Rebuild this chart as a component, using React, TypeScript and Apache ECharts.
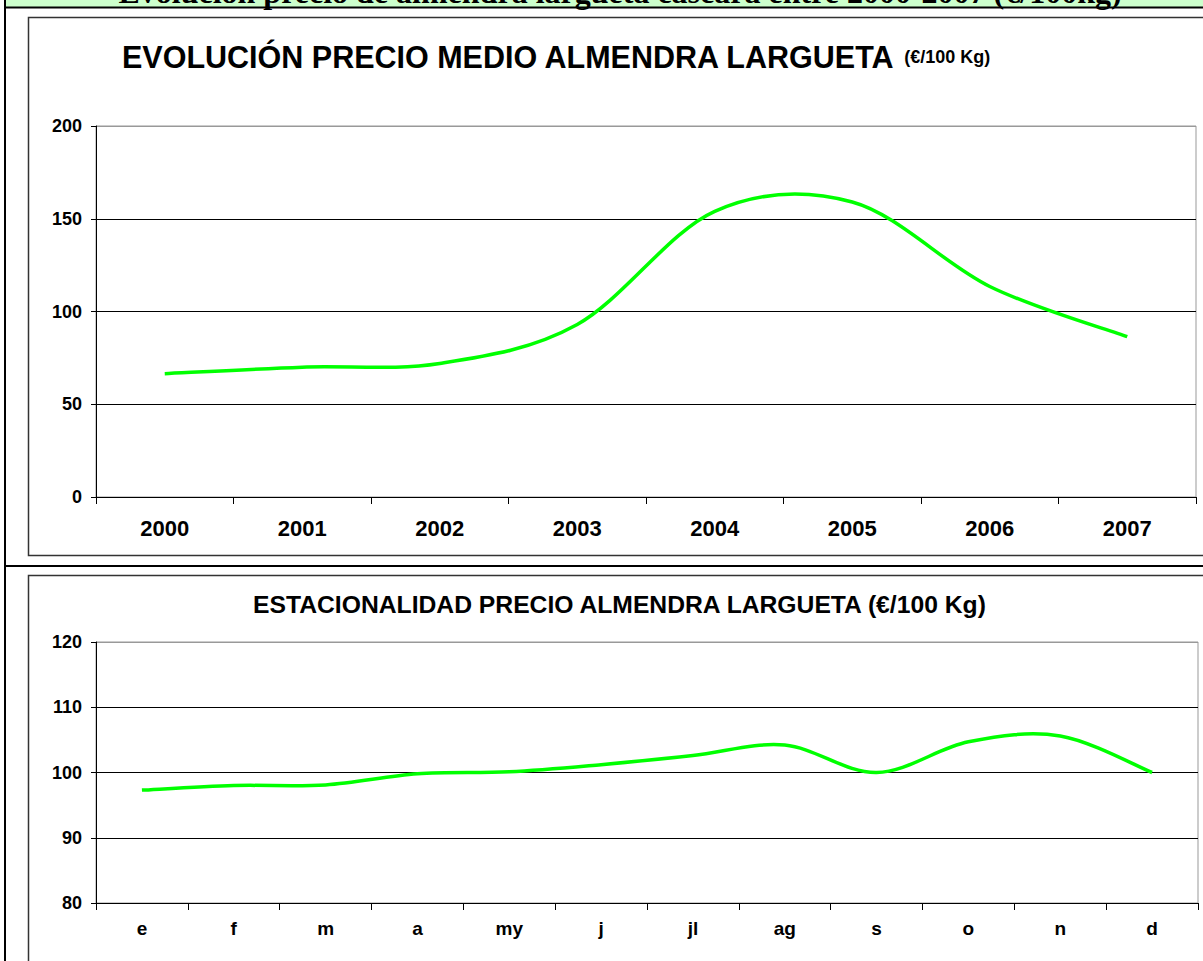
import React, { useEffect, useRef } from 'react';
import * as echarts from 'echarts';

const bannerTitle = 'Evolución precio de almendra largueta cáscara entre 2000-2007 (€/100kg)';
const chart1Title = 'EVOLUCIÓN PRECIO MEDIO ALMENDRA LARGUETA ';
const chart1Unit = '(€/100 Kg)';
const chart2Title = 'ESTACIONALIDAD PRECIO ALMENDRA LARGUETA (€/100 Kg)';

const years = ['2000', '2001', '2002', '2003', '2004', '2005', '2006', '2007'];
const priceValues = [66.5, 70, 72, 93, 154, 159, 113.5, 86.4];
const priceMin = 0;
const priceMax = 200;
const priceStep = 50;

const months = ['e', 'f', 'm', 'a', 'my', 'j', 'jl', 'ag', 's', 'o', 'n', 'd'];
const seasonValues = [97.3, 98.0, 98.1, 99.8, 100.1, 101.2, 102.6, 104.2, 100.0, 104.7, 105.6, 100.0];
const seasonMin = 80;
const seasonMax = 120;
const seasonStep = 10;

const FONT = 'Arial, "Liberation Sans", Helvetica, sans-serif';
const SERIF = '"Times New Roman", "Liberation Serif", serif';
const GRID_COLORS = ['#000', '#000', '#000', '#000', '#999'];

function xAxis(gridIndex: number, data: string[], fontSize: number, margin: number) {
  return {
    type: 'category',
    gridIndex,
    data,
    boundaryGap: true,
    axisLine: { show: true, lineStyle: { color: '#000', width: 1 } },
    axisTick: { show: true, length: 7, lineStyle: { color: '#000' } },
    axisLabel: { color: '#000', fontWeight: 'bold', fontSize, fontFamily: FONT, margin, interval: 0 },
    splitLine: { show: false },
  };
}

function yAxis(gridIndex: number, min: number, max: number, interval: number) {
  return {
    type: 'value',
    gridIndex,
    min,
    max,
    interval,
    axisLine: { show: true, lineStyle: { color: '#000' } },
    axisTick: { show: true, length: 5, lineStyle: { color: '#000' } },
    axisLabel: { color: '#000', fontWeight: 'bold', fontSize: 18, fontFamily: FONT, margin: 14 },
    splitLine: { show: true, lineStyle: { color: GRID_COLORS, width: 1 } },
  };
}

// Excel-like smoothed line (Catmull-Rom through the data points)
function smoothPath(pts: number[][]) {
  let d = `M${pts[0][0]},${pts[0][1]}`;
  for (let i = 0; i < pts.length - 1; i++) {
    const p0 = pts[i - 1] || pts[i];
    const p1 = pts[i];
    const p2 = pts[i + 1];
    const p3 = pts[i + 2] || p2;
    const c1x = p1[0] + (p2[0] - p0[0]) / 6;
    const c1y = p1[1] + (p2[1] - p0[1]) / 6;
    const c2x = p2[0] - (p3[0] - p1[0]) / 6;
    const c2y = p2[1] - (p3[1] - p1[1]) / 6;
    d += ` C${c1x},${c1y} ${c2x},${c2y} ${p2[0]},${p2[1]}`;
  }
  return d;
}

function smoothSeries(axisIndex: number, values: number[]) {
  return {
    type: 'custom',
    xAxisIndex: axisIndex,
    yAxisIndex: axisIndex,
    data: values.map((v, i) => [i, v]),
    z: 3,
    renderItem: (params: any, api: any) => {
      if (params.dataIndex !== 0) return { type: 'group', children: [] };
      const pts = values.map((v, i) => api.coord([i, v]));
      return {
        type: 'path',
        shape: { pathData: smoothPath(pts) },
        style: { fill: 'none', stroke: '#00ff00', lineWidth: 3.5, lineJoin: 'round', lineCap: 'butt' },
      };
    },
  };
}

export default function App() {
  const ref = useRef<HTMLDivElement>(null);

  useEffect(() => {
    if (!ref.current) return;
    const chart = echarts.init(ref.current, undefined, { renderer: 'svg' });
    chart.setOption({
      animation: false,
      backgroundColor: '#fff',
      title: [
        {
          text: `{a|${chart1Title}}{b|${chart1Unit}}`,
          left: 122,
          top: 41,
          padding: 0,
          textStyle: {
            rich: {
              a: { fontFamily: FONT, fontWeight: 'bold', fontSize: 30.5, color: '#000' },
              b: { fontFamily: FONT, fontWeight: 'bold', fontSize: 18, color: '#000' },
            },
          },
        },
        {
          text: chart2Title,
          left: 253,
          top: 592,
          padding: 0,
          textStyle: { fontFamily: FONT, fontWeight: 'bold', fontSize: 24.7, color: '#000' },
        },
      ],
      grid: [
        { left: 96, top: 126, width: 1100, height: 371, show: true, borderColor: '#999', borderWidth: 1 },
        { left: 96, top: 642, width: 1102, height: 261, show: true, borderColor: '#999', borderWidth: 1 },
      ],
      xAxis: [xAxis(0, years, 22, 20), xAxis(1, months, 19, 16)],
      yAxis: [yAxis(0, priceMin, priceMax, priceStep), yAxis(1, seasonMin, seasonMax, seasonStep)],
      series: [smoothSeries(0, priceValues), smoothSeries(1, seasonValues)],
      graphic: [
        { type: 'rect', shape: { x: 6, y: -30, width: 1200, height: 37 }, style: { fill: '#ccffcc' }, z: 0 },
        {
          type: 'text',
          x: 620,
          y: -8.5,
          style: { text: bannerTitle, font: `bold 32px ${SERIF}`, fill: '#000', align: 'center', verticalAlign: 'middle' },
          z: 1,
        },
        { type: 'line', shape: { x1: 4, y1: 7.5, x2: 1210, y2: 7.5 }, style: { stroke: '#000', lineWidth: 2 }, z: 2 },
        { type: 'line', shape: { x1: 4, y1: 566, x2: 1210, y2: 566 }, style: { stroke: '#000', lineWidth: 2 }, z: 2 },
        { type: 'line', shape: { x1: 5, y1: 0, x2: 5, y2: 970 }, style: { stroke: '#000', lineWidth: 2 }, z: 2 },
        { type: 'rect', shape: { x: 28.5, y: 17.5, width: 1200, height: 538 }, style: { fill: 'none', stroke: '#333', lineWidth: 1.5 }, z: 2 },
        { type: 'rect', shape: { x: 28.5, y: 575.5, width: 1200, height: 500 }, style: { fill: 'none', stroke: '#333', lineWidth: 1.5 }, z: 2 },
      ],
    });
    return () => chart.dispose();
  }, []);

  return (
    <div
      ref={ref}
      style={{ position: 'absolute', left: 0, top: 0, width: 1203, height: 961, background: '#fff' }}
    />
  );
}
